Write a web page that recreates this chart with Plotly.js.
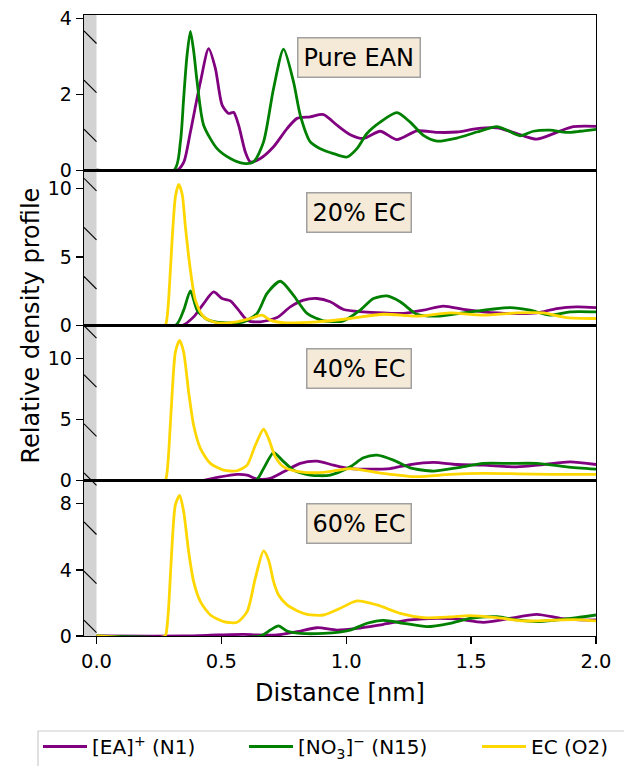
<!DOCTYPE html>
<html>
<head>
<meta charset="utf-8">
<script src="https://cdn.plot.ly/plotly-3.0.1.min.js"></script>
<style>html,body{margin:0;padding:0;background:#fff;}#chart{width:624px;height:766px;}</style>
</head>
<body>
<div id="chart"></div>
<script>
// ---------- data (distance in nm, relative density) ----------
const panelLabels = ["Pure EAN", "20% EC", "40% EC", "60% EC"];
const seriesNames = ["[EA]<sup>+</sup> (N1)", "[NO<sub>3</sub>]<sup>\u2212</sup> (N15)", "EC (O2)"];
const seriesColors = ["#800080", "#008000", "#ffd700"];
const yTickVals = [[0, 2, 4], [0, 5, 10], [0, 5, 10], [0, 4, 8]];
const yRanges = [[0, 4.1], [0, 11.33], [0, 12.72], [0, 9.39]];

// Pure EAN
const pure_EA_x = [0, 0.323, 0.35, 0.376, 0.416, 0.449, 0.476, 0.503, 0.529, 0.549, 0.569, 0.596, 0.616, 0.656, 0.709, 0.763, 0.803, 0.856, 0.909, 0.963, 1.016, 1.069, 1.136, 1.203, 1.283, 1.363, 1.443, 1.523, 1.603, 1.683, 1.763, 1.843, 1.909, 2.0];
const pure_EA_y = [0, 0, 0.22, 1.01, 2.33, 3.21, 2.69, 1.72, 1.5, 1.53, 1.19, 0.48, 0.22, 0.31, 0.62, 1.1, 1.37, 1.41, 1.47, 1.19, 0.94, 0.84, 1.03, 0.81, 1.04, 1.0, 1.01, 1.1, 1.12, 0.97, 0.82, 1.0, 1.15, 1.16];
const pure_NO3_x = [0, 0.31, 0.336, 0.349, 0.362, 0.376, 0.39, 0.403, 0.429, 0.483, 0.536, 0.589, 0.629, 0.669, 0.709, 0.749, 0.789, 0.816, 0.856, 0.896, 0.949, 1.003, 1.043, 1.083, 1.136, 1.203, 1.256, 1.309, 1.363, 1.443, 1.523, 1.603, 1.643, 1.696, 1.749, 1.816, 1.883, 1.936, 2.0];
const pure_NO3_y = [0, 0, 0.75, 1.9, 3.0, 3.67, 3.1, 2.33, 1.19, 0.57, 0.31, 0.18, 0.22, 0.75, 2.16, 3.2, 2.33, 1.45, 0.75, 0.57, 0.44, 0.35, 0.57, 0.97, 1.27, 1.52, 1.27, 0.92, 0.77, 0.85, 1.01, 1.15, 1.06, 0.91, 1.03, 1.06, 1.0, 1.03, 1.08];

// 20% EC
const ec20_EA_x = [0, 0.343, 0.389, 0.429, 0.469, 0.503, 0.536, 0.569, 0.603, 0.656, 0.723, 0.776, 0.829, 0.883, 0.936, 0.989, 1.069, 1.149, 1.229, 1.309, 1.389, 1.469, 1.549, 1.656, 1.763, 1.843, 1.923, 2.0];
const ec20_EA_y = [0, 0, 0.63, 1.6, 2.45, 1.97, 1.8, 1.12, 0.39, 0.27, 0.58, 1.36, 1.85, 1.97, 1.73, 1.17, 1.0, 0.92, 0.88, 1.12, 1.41, 1.17, 1.0, 0.88, 0.92, 1.24, 1.36, 1.31];
const ec20_NO3_x = [0, 0.316, 0.349, 0.376, 0.403, 0.443, 0.509, 0.589, 0.643, 0.683, 0.736, 0.789, 0.843, 0.909, 0.989, 1.056, 1.109, 1.163, 1.216, 1.283, 1.363, 1.469, 1.576, 1.656, 1.736, 1.816, 1.896, 2.0];
const ec20_NO3_y = [0, 0, 1.12, 2.53, 1.12, 0.44, 0.2, 0.27, 0.88, 2.34, 3.23, 2.2, 0.88, 0.34, 0.34, 1.12, 1.97, 2.16, 1.73, 0.82, 0.68, 0.92, 1.17, 1.31, 1.12, 0.75, 1.0, 1.0];
const ec20_EC_x = [0, 0.274, 0.282, 0.29, 0.303, 0.316, 0.329, 0.343, 0.356, 0.376, 0.396, 0.429, 0.483, 0.563, 0.616, 0.663, 0.696, 0.749, 0.883, 1.016, 1.149, 1.283, 1.416, 1.549, 1.683, 1.789, 1.883, 2.0];
const ec20_EC_y = [0, 0, 0.5, 2.2, 6.3, 9.4, 10.3, 9.6, 7.2, 4.04, 1.85, 0.63, 0.2, 0.27, 0.51, 0.75, 0.39, 0.2, 0.27, 0.51, 0.82, 0.68, 0.92, 0.75, 0.92, 0.92, 0.58, 0.51];

// 40% EC
const ec40_EA_x = [0, 0.416, 0.483, 0.563, 0.603, 0.643, 0.696, 0.749, 0.816, 0.883, 0.949, 1.016, 1.096, 1.176, 1.256, 1.349, 1.443, 1.549, 1.683, 1.789, 1.896, 2.0];
const ec40_EA_y = [0, 0, 0.27, 0.52, 0.46, 0.14, 0.19, 0.73, 1.42, 1.61, 1.28, 1.0, 0.95, 1.0, 1.33, 1.5, 1.33, 1.28, 1.14, 1.33, 1.55, 1.33];
const ec40_NO3_x = [0, 0.636, 0.669, 0.709, 0.743, 0.789, 0.856, 0.936, 1.016, 1.069, 1.123, 1.189, 1.256, 1.349, 1.443, 1.549, 1.656, 1.763, 1.883, 2.0];
const ec40_NO3_y = [0, 0, 1.0, 2.31, 1.69, 0.87, 0.46, 0.46, 1.14, 1.88, 2.1, 1.69, 1.06, 0.79, 1.06, 1.42, 1.42, 1.42, 1.14, 0.95];
const ec40_EC_x = [0, 0.274, 0.282, 0.29, 0.303, 0.316, 0.333, 0.349, 0.369, 0.389, 0.416, 0.456, 0.509, 0.563, 0.603, 0.636, 0.669, 0.689, 0.716, 0.749, 0.816, 0.909, 1.016, 1.149, 1.283, 1.416, 1.549, 1.683, 1.816, 2.0];
const ec40_EC_y = [0, 0, 0.6, 2.6, 7.2, 10.54, 11.5, 10.54, 7.27, 4.55, 2.65, 1.42, 0.87, 0.82, 1.28, 2.91, 4.22, 3.46, 1.96, 1.14, 0.73, 0.68, 1.0, 0.6, 0.33, 0.52, 0.6, 0.57, 0.52, 0.52];

// 60% EC
const ec60_EA_x = [0, 0.349, 0.483, 0.589, 0.643, 0.723, 0.803, 0.883, 0.963, 1.043, 1.149, 1.256, 1.363, 1.443, 1.549, 1.656, 1.763, 1.856, 1.936, 2.0];
const ec60_EA_y = [0, 0, 0.06, 0.1, 0.06, 0.06, 0.26, 0.5, 0.36, 0.46, 0.71, 0.97, 1.07, 1.03, 0.83, 1.07, 1.31, 1.07, 0.97, 0.97];
const ec60_NO3_x = [0, 0.656, 0.696, 0.729, 0.763, 0.816, 0.909, 1.016, 1.083, 1.149, 1.229, 1.323, 1.416, 1.496, 1.603, 1.683, 1.763, 1.843, 1.923, 2.0];
const ec60_NO3_y = [0, 0, 0.36, 0.61, 0.3, 0.16, 0.16, 0.36, 0.77, 0.95, 0.77, 0.57, 0.77, 1.07, 1.17, 0.97, 0.87, 0.97, 1.11, 1.27];
const ec60_EC_x = [0, 0.274, 0.282, 0.29, 0.303, 0.316, 0.333, 0.349, 0.369, 0.389, 0.416, 0.456, 0.509, 0.563, 0.603, 0.636, 0.669, 0.689, 0.709, 0.729, 0.763, 0.803, 0.843, 0.909, 0.976, 1.043, 1.123, 1.216, 1.309, 1.416, 1.496, 1.603, 1.709, 1.816, 1.909, 2.0];
const ec60_EC_y = [0, 0, 0.5, 2.0, 5.6, 7.94, 8.5, 7.53, 5.1, 3.29, 2.08, 1.27, 0.87, 0.83, 1.47, 3.5, 5.15, 4.6, 3.29, 2.48, 1.88, 1.53, 1.31, 1.27, 1.68, 2.12, 1.88, 1.37, 1.11, 1.15, 1.23, 1.11, 0.91, 0.95, 0.99, 0.91];

const panels = [
  [[pure_EA_x, pure_EA_y], [pure_NO3_x, pure_NO3_y], null],
  [[ec20_EA_x, ec20_EA_y], [ec20_NO3_x, ec20_NO3_y], [ec20_EC_x, ec20_EC_y]],
  [[ec40_EA_x, ec40_EA_y], [ec40_NO3_x, ec40_NO3_y], [ec40_EC_x, ec40_EC_y]],
  [[ec60_EA_x, ec60_EA_y], [ec60_NO3_x, ec60_NO3_y], [ec60_EC_x, ec60_EC_y]]
];

// ---------- build figure ----------
const FONT = "DejaVu Sans, Arial, sans-serif";
const legendIds = ["legend", "legend2", "legend3"];
const traces = [];
panels.forEach((p, i) => {
  p.forEach((s, j) => {
    if (!s) return;
    traces.push({
      type: "scatter", mode: "lines",
      x: s[0], y: s[1],
      xaxis: i === 0 ? "x" : "x" + (i + 1),
      yaxis: i === 0 ? "y" : "y" + (i + 1),
      name: seriesNames[j],
      legendgroup: "g" + j,
      legend: legendIds[j],
      showlegend: i === 3,
      line: {color: seriesColors[j], width: 2.8, shape: "spline", smoothing: 0.7},
      hoverinfo: "skip"
    });
  });
});

const N = 4;
const H = 1 / N;
const plotL = 84, plotW = 512, plotTop = 15, plotBot = 636, plotH = plotBot - plotTop;
const pxToPaperX = px => (px - plotL) / plotW;
const pxToPaperY = py => (plotBot - py) / plotH;

const layout = {
  width: 624, height: 766,
  margin: {l: 84, r: 28, t: 15, b: 130, autoexpand: false},
  paper_bgcolor: "#fff", plot_bgcolor: "#fff",
  font: {family: FONT, color: "#000", size: 20},
  showlegend: true,
  shapes: [], annotations: []
};
// one legend per entry so that entries sit where the reference has them
const legendLeftPx = [38, 244, 477];
legendIds.forEach((id, j) => {
  layout[id] = {
    orientation: "h", x: pxToPaperX(legendLeftPx[j]), y: pxToPaperY(727),
    xanchor: "left", yanchor: "top",
    bgcolor: "rgba(0,0,0,0)", borderwidth: 0,
    font: {family: FONT, size: 20, color: "#000"},
    itemwidth: 44
  };
});
// legend frame (runs off the bottom/right edge as in the reference)
layout.shapes.push({
  type: "rect", xref: "paper", yref: "paper",
  x0: pxToPaperX(38), x1: pxToPaperX(640), y0: pxToPaperY(731), y1: pxToPaperY(790),
  fillcolor: "#fff", line: {color: "#cccccc", width: 1.2}, layer: "below"
});

for (let i = 0; i < N; i++) {
  const xa = i === 0 ? "xaxis" : "xaxis" + (i + 1);
  const ya = i === 0 ? "yaxis" : "yaxis" + (i + 1);
  const yid = i === 0 ? "y" : "y" + (i + 1);
  const xid = i === 0 ? "x" : "x" + (i + 1);
  const bottom = i === N - 1;
  layout[xa] = {
    domain: [0, 1], anchor: yid, range: [-0.05, 2.0],
    matches: i === 0 ? undefined : "x",
    showline: true, mirror: true, linecolor: "#000", linewidth: 1.3,
    showgrid: false, zeroline: false,
    ticks: bottom ? "outside" : "", ticklen: 7, tickwidth: 1.3, tickcolor: "#000",
    showticklabels: bottom, tickvals: [0, 0.5, 1, 1.5, 2], ticktext: ["0.0", "0.5", "1.0", "1.5", "2.0"],
    tickfont: {family: FONT, size: 19.5, color: "#000"}
  };
  if (bottom) layout[xa].title = {text: "Distance [nm]", font: {family: FONT, size: 24, color: "#000"}, standoff: 12};
  layout[ya] = {
    domain: [(N - 1 - i) * H, (N - i) * H], anchor: xid, range: yRanges[i],
    showline: true, mirror: true, linecolor: "#000", linewidth: 1.3,
    showgrid: false, zeroline: false,
    ticks: "outside", ticklen: 7, tickwidth: 1.3, tickcolor: "#000",
    tickvals: yTickVals[i], tickfont: {family: FONT, size: 19, color: "#000"}
  };
  // grey band left of zero
  layout.shapes.push({
    type: "rect", xref: xid, yref: yid + " domain", x0: -0.05, x1: 0, y0: 0, y1: 1,
    fillcolor: "#d3d3d3", line: {width: 0}, layer: "below"
  });
  // panel label box
  layout.annotations.push({
    xref: xid + " domain", yref: yid + " domain", x: 0.538, y: 0.726,
    xanchor: "center", yanchor: "middle", showarrow: false,
    text: panelLabels[i], font: {family: FONT, size: 24, color: "#000"},
    bgcolor: "#f5ead7", bordercolor: "#a0a0a0", borderwidth: 1.5, borderpad: 5
  });
}

// hatch strokes on the grey band (figure-pixel spacing)
for (let k = 0; k < 13; k++) {
  const py = 31 + 49.1 * k;
  layout.shapes.push({
    type: "line", xref: "x", yref: "paper",
    x0: -0.05, x1: 0, y0: pxToPaperY(py), y1: pxToPaperY(py + 12.5),
    line: {color: "#000", width: 1.1}, layer: "above"
  });
}

// shared y title
layout.annotations.push({
  xref: "paper", yref: "paper", x: pxToPaperX(30), y: 0.5, xanchor: "center", yanchor: "middle",
  showarrow: false, textangle: -90, text: "Relative density profile",
  font: {family: FONT, size: 24, color: "#000"}
});

Plotly.newPlot("chart", traces, layout, {displayModeBar: false, staticPlot: true});
</script>
</body>
</html>
